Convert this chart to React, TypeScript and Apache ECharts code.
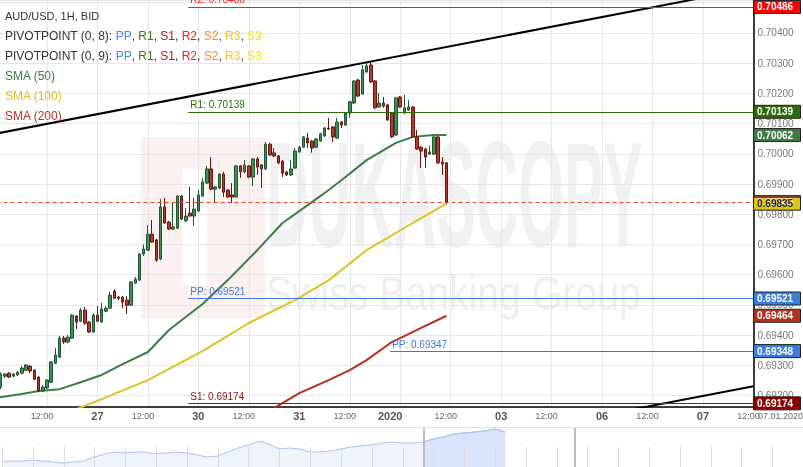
import React, { useEffect, useRef } from "react";
import * as echarts from "echarts";

// ---------- DATA ----------
const FIRST_HOUR = 1; // hour index of first candle (hours from 26 Dec 00:00, trading hours only)

const opens = [
  0.69228, 0.69264, 0.69274, 0.69264, 0.69268, 0.69274, 0.69284, 0.69297, 0.69284, 0.69261,
  0.69215, 0.69225, 0.69244, 0.69307, 0.69327, 0.6939, 0.69377, 0.6939, 0.69463, 0.69446,
  0.69483, 0.69443, 0.6941, 0.69466, 0.69443, 0.69479, 0.69489, 0.69546, 0.69526, 0.69526,
  0.69516, 0.69499, 0.69572, 0.69582, 0.69668, 0.69681, 0.69734, 0.69715, 0.69652, 0.69824,
  0.69774, 0.69751, 0.69754, 0.6986, 0.69778, 0.69804, 0.69794, 0.69811, 0.6986, 0.69903,
  0.6995, 0.69883, 0.69887, 0.69933, 0.6988, 0.69864, 0.69857, 0.6996, 0.6994, 0.6996,
  0.69923, 0.69983, 0.69963, 0.6995, 0.70032, 0.70003, 0.69993, 0.69976, 0.6994, 0.6993,
  0.69953, 0.70006, 0.70022, 0.70052, 0.70042, 0.70022, 0.70042, 0.70059, 0.70085, 0.70089,
  0.70052, 0.70105, 0.70095, 0.70135, 0.70168, 0.70244, 0.70198, 0.70271, 0.70294, 0.70241,
  0.70155, 0.70168, 0.70162, 0.70135, 0.70062, 0.70188, 0.70135, 0.70145, 0.70155, 0.70056,
  0.70022, 0.70016, 0.69999, 0.69999, 0.70056, 0.69973, 0.6997,
];
const closes = [
  0.69271, 0.69271, 0.69261, 0.69271, 0.69277, 0.69291, 0.69301, 0.69281, 0.69254, 0.69215,
  0.69228, 0.69251, 0.69311, 0.69334, 0.6939, 0.69377, 0.69393, 0.69466, 0.69443, 0.69483,
  0.6944, 0.6941, 0.69466, 0.69446, 0.69486, 0.69489, 0.69532, 0.69522, 0.69522, 0.69509,
  0.69499, 0.69576, 0.69585, 0.69668, 0.69685, 0.69734, 0.69708, 0.69648, 0.69824, 0.69771,
  0.69751, 0.69758, 0.6986, 0.69784, 0.69794, 0.69794, 0.69817, 0.69864, 0.69907, 0.6995,
  0.69883, 0.6989, 0.69933, 0.69873, 0.69857, 0.69857, 0.6996, 0.6994, 0.69963, 0.69923,
  0.69983, 0.69956, 0.6995, 0.70032, 0.69996, 0.69993, 0.6997, 0.69936, 0.6993, 0.6995,
  0.70009, 0.70022, 0.70056, 0.70036, 0.70019, 0.70049, 0.70066, 0.70085, 0.70082, 0.70056,
  0.70105, 0.70095, 0.70135, 0.70172, 0.70241, 0.70191, 0.70278, 0.70291, 0.70238, 0.70152,
  0.70168, 0.70158, 0.70112, 0.70056, 0.70185, 0.70155, 0.70152, 0.70155, 0.70056, 0.70016,
  0.70009, 0.69989, 0.70006, 0.70056, 0.6997, 0.69966, 0.6984,
];
const lows = [
  0.69221, 0.69258, 0.69258, 0.69261, 0.69264, 0.69271, 0.69281, 0.69274, 0.69251, 0.69211,
  0.69211, 0.69221, 0.69241, 0.69304, 0.69324, 0.6937, 0.69373, 0.69387, 0.6942, 0.69443,
  0.69433, 0.69407, 0.69407, 0.69443, 0.6944, 0.69476, 0.69486, 0.69519, 0.69516, 0.69489,
  0.6947, 0.69496, 0.69569, 0.69579, 0.69662, 0.69678, 0.69705, 0.69642, 0.69648, 0.69768,
  0.69748, 0.69748, 0.69751, 0.69781, 0.69774, 0.69791, 0.69761, 0.69807, 0.69857, 0.699,
  0.6988, 0.69837, 0.69883, 0.69857, 0.69854, 0.69837, 0.69854, 0.6992, 0.69936, 0.6992,
  0.69893, 0.6993, 0.69887, 0.69946, 0.69993, 0.69989, 0.69966, 0.69923, 0.69927, 0.69927,
  0.6995, 0.70003, 0.70019, 0.70019, 0.70003, 0.70019, 0.70039, 0.70056, 0.70079, 0.70039,
  0.70049, 0.70085, 0.70092, 0.70119, 0.70165, 0.70188, 0.70195, 0.70268, 0.70234, 0.70148,
  0.70152, 0.70152, 0.70109, 0.70052, 0.70059, 0.70152, 0.70132, 0.70142, 0.70052, 0.70013,
  0.69953, 0.69953, 0.69996, 0.69996, 0.69966, 0.6993, 0.69834,
];
const highs = [
  0.69277, 0.69274, 0.69277, 0.69274, 0.69281, 0.69297, 0.69304, 0.69301, 0.69287, 0.69264,
  0.69234, 0.69254, 0.69314, 0.69357, 0.69397, 0.69397, 0.694, 0.6947, 0.69466, 0.69489,
  0.69493, 0.69446, 0.69473, 0.69496, 0.69506, 0.69496, 0.69542, 0.69552, 0.69529, 0.69529,
  0.69529, 0.69579, 0.69592, 0.69672, 0.697, 0.69764, 0.69781, 0.69718, 0.6985, 0.69854,
  0.69778, 0.69837, 0.69864, 0.69864, 0.69821, 0.6989, 0.69854, 0.6988, 0.6992, 0.6996,
  0.69989, 0.69893, 0.69936, 0.6994, 0.69883, 0.69903, 0.69963, 0.69963, 0.69979, 0.69963,
  0.69986, 0.69989, 0.69966, 0.70039, 0.70036, 0.70019, 0.69996, 0.69979, 0.69943, 0.69979,
  0.70019, 0.70026, 0.70059, 0.70069, 0.70046, 0.70052, 0.70069, 0.70089, 0.70119, 0.70092,
  0.70119, 0.70109, 0.70138, 0.70175, 0.70244, 0.70248, 0.70294, 0.70304, 0.70304, 0.70244,
  0.70201, 0.70188, 0.70165, 0.70138, 0.70188, 0.70191, 0.70195, 0.70178, 0.70158, 0.70079,
  0.70026, 0.70019, 0.70026, 0.70059, 0.70059, 0.69989, 0.69973,
];

// SMA readings [hour, value]
const sma50 = [
  [0, 0.69193], [6, 0.69205], [10, 0.69215], [15, 0.69221], [20, 0.69244], [25, 0.69268],
  [30, 0.69304], [36, 0.69344], [41, 0.69417], [49, 0.69503], [55, 0.69582], [62, 0.69681],
  [68, 0.69771], [75, 0.6984], [79, 0.6988], [83, 0.69923], [88, 0.69979], [95, 0.70036],
  [99, 0.70056], [104, 0.70062], [107, 0.70062],
];
const sma100 = [
  [19, 0.69155], [25, 0.69188], [36, 0.69251], [49, 0.69347], [60, 0.6944], [71, 0.69516],
  [79, 0.69582], [88, 0.69681], [99, 0.69771], [107, 0.69835],
];
const sma200 = [
  [65, 0.6915], [72, 0.69208], [79, 0.69251], [84, 0.69284], [88, 0.69317], [94, 0.69377],
  [100, 0.69417], [107, 0.69464],
];

// Pivot points
const pivotValues = [0.70486, 0.70139, 0.69521, 0.69174, 0.69347];
const pivotLabels = ["R2: 0.70486", "R1: 0.70139", "PP: 0.69521", "S1: 0.69174", "PP: 0.69347"];
const pivotBoxLabels = ["0.70486", "0.70139", "0.69521", "0.69174", "0.69348"];
const pivotStartHours = [45.6, 45.6, 45.6, 45.6, 93.6];
const pivotColors = ["#ff1a1a", "#2b6e0a", "#3c78d8", "#8b1414", "#3c78d8"];
const pivotBoxColors = ["#ff0000", "#2b6b0c", "#3b7ddf", "#8e0000", "#3b7ddf"];

// Trend lines [hour, price]
const upperTrend = [[0, 0.70067], [180, 0.70549]];
const lowerTrend = [[130, 0.69097], [180, 0.69231]];

// Axis ticks
const tickHours = [12, 24, 36, 48, 60, 72, 84, 96, 108, 120, 132, 144, 156, 168, 180];
const tickTexts = ["12:00", "27", "12:00", "30", "12:00", "31", "12:00", "2020", "12:00", "03", "12:00", "06", "12:00", "07", "12:00"];
const cursorDate = "07.01.2020";

// Navigator history (relative level), its day ticks and selected window
const navHistory = [
  5, 6, 6, 7, 6, 5, 4, 5, 6, 10, 13, 15, 14, 15, 15, 13, 14, 15, 14, 12,
  10, 11, 15, 19, 22, 26, 23, 18, 19, 18, 15, 15, 16, 18, 20, 21, 22, 24, 25, 24,
  24, 25, 28, 30, 33, 34, 35, 36, 38, 35,
];
const navDayTicks = [0, 1, 2, 3, 4, 5, 6, 7, 8, 9, 10, 11, 12, 13, 14, 15, 16, 17, 18, 19, 20, 21, 22, 23, 24, 25, 26];
const navTickHeight = 20;
const navWindow = [13.7, 18.6];

const FONT = "Liberation Sans, Arial, sans-serif";

export default function App() {
  const ref = useRef<HTMLDivElement>(null);

  useEffect(() => {
    const el = ref.current!;
    const chart = echarts.init(el, null, { renderer: "svg" });

    const candleData = opens.map((o, i) => [FIRST_HOUR + i, o, closes[i], lows[i], highs[i]]);
    const lastPrice = closes[closes.length - 1];
    const navData = navHistory.map((v, i) => [i / 3, v]);
    const navSel = navData.filter((p) => p[0] >= navWindow[0] - 0.1);

    const pivotMarks: any[] = pivotValues.map((v, i) => [
      {
        coord: [pivotStartHours[i], v],
        lineStyle: { color: pivotColors[i], width: 1, type: "solid" },
        label: {
          show: true,
          position: "insideStartTop",
          formatter: pivotLabels[i],
          color: pivotColors[i],
          fontSize: 10,
          fontFamily: FONT,
          distance: 2,
        },
      },
      { coord: [180, v] },
    ]);
    pivotMarks.push([
      {
        coord: [0, lastPrice],
        lineStyle: { color: "#e8452e", width: 1, type: [4, 3] },
        label: { show: false },
      },
      { coord: [180, lastPrice] },
    ]);

    const navMarks: any[] = navWindow.map((w) => [
      { coord: [w, 0], lineStyle: { color: "#bdbdbd", width: 2, type: "solid" } },
      { coord: [w, 40] },
    ]);

    const xFormatter = (v: number) => {
      const i = tickHours.indexOf(Math.round(v));
      if (i < 0) return "";
      const t = tickTexts[i];
      if (t === "12:00") return `{t|${t}}`;
      if (t.length === 4) return `{y|${t}}`;
      return `{d|${t}}`;
    };

    const option: any = {
      animation: false,
      textStyle: { fontFamily: FONT },
      grid: [
        { left: -3.46, top: 0, width: 756.9, height: 407, containLabel: false, outerBoundsMode: "none" },
        { left: 2, top: 427, width: 801, height: 40, containLabel: false, outerBoundsMode: "none" },
      ],
      xAxis: [
        {
          type: "value",
          gridIndex: 0,
          min: 0,
          max: 180,
          interval: 12,
          axisLine: { show: true, onZero: false, lineStyle: { color: "#000", width: 1.5 } },
          axisTick: { show: false },
          splitLine: { show: true, lineStyle: { color: "#e6e6e6", width: 1 } },
          axisLabel: {
            margin: 3,
            formatter: xFormatter,
            showMinLabel: true,
            showMaxLabel: true,
            rich: {
              t: { fontSize: 9, color: "#666", padding: [0, 10, 0, 0], lineHeight: 12, fontFamily: FONT },
              d: { fontSize: 11, fontWeight: "bold", color: "#555", lineHeight: 12, fontFamily: FONT },
              y: { fontSize: 11, fontWeight: "bold", color: "#555", padding: [0, 20, 0, 0], lineHeight: 12, fontFamily: FONT },
            },
          },
        },
        {
          type: "value",
          gridIndex: 1,
          min: 0,
          max: 26,
          interval: 1,
          show: false,
        },
      ],
      yAxis: [
        {
          type: "value",
          gridIndex: 0,
          position: "right",
          min: 0.69162,
          max: 0.70509,
          minInterval: 0.001,
          maxInterval: 0.001,
          axisLine: { show: true, onZero: false, lineStyle: { color: "#000", width: 1.5 } },
          axisTick: { show: false },
          splitLine: { show: true, lineStyle: { color: "#e6e6e6", width: 1 } },
          axisLabel: {
            fontSize: 10,
            color: "#777",
            margin: 4,
            showMinLabel: false,
            showMaxLabel: false,
            fontFamily: FONT,
            formatter: (v: number) => v.toFixed(5),
          },
        },
        { type: "value", gridIndex: 1, min: 0, max: 40, show: false },
      ],
      series: [
        {
          type: "line",
          name: "SMA (50)",
          xAxisIndex: 0,
          yAxisIndex: 0,
          data: sma50,
          symbol: "none",
          lineStyle: { color: "#3b7d44", width: 2 },
          z: 2,
        },
        {
          type: "line",
          name: "SMA (100)",
          xAxisIndex: 0,
          yAxisIndex: 0,
          data: sma100,
          symbol: "none",
          lineStyle: { color: "#dcc423", width: 2 },
          z: 2,
        },
        {
          type: "line",
          name: "SMA (200)",
          xAxisIndex: 0,
          yAxisIndex: 0,
          data: sma200,
          symbol: "none",
          lineStyle: { color: "#b52f1f", width: 2 },
          z: 2,
        },
        {
          type: "candlestick",
          name: "AUD/USD",
          xAxisIndex: 0,
          yAxisIndex: 0,
          data: candleData,
          encode: { x: 0, y: [1, 2, 3, 4] },
          barWidth: 3,
          itemStyle: {
            color: "#3f8f5c",
            color0: "#b8382a",
            borderColor: "#1f5530",
            borderColor0: "#5e1a12",
            borderWidth: 1,
          },
          z: 3,
          markLine: {
            silent: true,
            symbol: ["none", "none"],
            animation: false,
            data: pivotMarks,
          },
        },
        {
          type: "line",
          xAxisIndex: 0,
          yAxisIndex: 0,
          data: upperTrend,
          symbol: "none",
          lineStyle: { color: "#000", width: 2 },
          z: 4,
        },
        {
          type: "line",
          xAxisIndex: 0,
          yAxisIndex: 0,
          data: lowerTrend,
          symbol: "none",
          lineStyle: { color: "#000", width: 2 },
          z: 4,
        },
        {
          type: "line",
          xAxisIndex: 1,
          yAxisIndex: 1,
          data: navData,
          symbol: "none",
          lineStyle: { color: "#a9c3ef", width: 1 },
          areaStyle: { color: "#eef3fd", opacity: 1 },
          z: 1,
        },
        {
          type: "line",
          xAxisIndex: 1,
          yAxisIndex: 1,
          data: navSel,
          symbol: "none",
          lineStyle: { color: "#a9c3ef", width: 1 },
          areaStyle: { color: "#d9e5fa", opacity: 1 },
          z: 1,
          markLine: {
            silent: true,
            symbol: ["none", "none"],
            label: { show: false },
            animation: false,
            data: navMarks,
          },
        },
      ],
    };

    chart.setOption(option);

    // value boxes on the right axis
    const boxes: { v: number; text: string; bg: string; fg: string }[] = [];
    pivotValues.forEach((v, i) => boxes.push({ v, text: pivotBoxLabels[i], bg: pivotBoxColors[i], fg: "#fff" }));
    boxes.push({ v: lastPrice, text: lastPrice.toFixed(5), bg: "#e5452c", fg: "#fff" });
    const s50 = sma50[sma50.length - 1][1];
    const s100 = sma100[sma100.length - 1][1];
    const s200 = sma200[sma200.length - 1][1];
    boxes.push({ v: s50, text: s50.toFixed(5), bg: "#3e7b45", fg: "#fff" });
    boxes.push({ v: s200, text: s200.toFixed(5), bg: "#b3321f", fg: "#fff" });
    boxes.push({ v: s100, text: s100.toFixed(5), bg: "#dcc61e", fg: "#222" });

    const boxEls: any[] = [];
    boxes.forEach((b) => {
      const py = chart.convertToPixel({ yAxisIndex: 0 }, b.v) as number;
      boxEls.push({
        type: "rect",
        shape: { x: 753.5, y: py - 6.5, width: 47, height: 13 },
        style: { fill: b.bg, stroke: "#222", lineWidth: 1 },
        z: 50,
        silent: true,
      });
      boxEls.push({
        type: "text",
        x: 757,
        y: py,
        style: { text: b.text, fill: b.fg, fontSize: 10, fontWeight: "bold", fontFamily: FONT, verticalAlign: "middle", align: "left" },
        z: 51,
        silent: true,
      });
    });

    // navigator day ticks, placed through the navigator's own scales
    const navTickEls: any[] = [];
    navDayTicks.forEach((d) => {
      const p0 = chart.convertToPixel({ xAxisIndex: 1, yAxisIndex: 1 }, [d, 0]) as number[];
      const p1 = chart.convertToPixel({ xAxisIndex: 1, yAxisIndex: 1 }, [d, navTickHeight]) as number[];
      if (!p0 || !p1) return;
      const x = Math.round(p0[0]) + 0.5;
      navTickEls.push({
        type: "line",
        shape: { x1: x, y1: p0[1], x2: x, y2: p1[1] },
        style: { stroke: "#dcdcdc", lineWidth: 1 },
        z: 4,
        silent: true,
      });
    });

    const legendNames = ["PP", "R1", "S1", "R2", "S2", "R3", "S3"];
    const legendColors = ["#4a86e8", "#38761d", "#a61c1c", "#ff1a1a", "#ff8c1a", "#f1c232", "#f5e60a"];
    const rich: any = { a: { fill: "#333", fontSize: 12, fontFamily: FONT } };
    legendNames.forEach((n, i) => (rich["c" + i] = { fill: legendColors[i], fontSize: 12, fontFamily: FONT }));
    const pivotLegend = (p: string) =>
      `{a|PIVOTPOINT (${p}): }` + legendNames.map((n, i) => `{c${i}|${n}}`).join("{a|, }");

    const legendEls: any[] = [
      { type: "text", x: 5, y: 16, style: { text: "AUD/USD, 1H, BID", fill: "#333", fontSize: 11, fontFamily: FONT, verticalAlign: "middle" } },
      { type: "text", x: 5, y: 36, style: { text: pivotLegend("0, 8"), rich, fontSize: 12, fontFamily: FONT, verticalAlign: "middle" } },
      { type: "text", x: 5, y: 55.5, style: { text: pivotLegend("0, 9"), rich, fontSize: 12, fontFamily: FONT, verticalAlign: "middle" } },
      { type: "text", x: 5, y: 76, style: { text: "SMA (50)", fill: "#3c7d3c", fontSize: 12, fontFamily: FONT, verticalAlign: "middle" } },
      { type: "text", x: 5, y: 96, style: { text: "SMA (100)", fill: "#dfc020", fontSize: 12, fontFamily: FONT, verticalAlign: "middle" } },
      { type: "text", x: 5, y: 116, style: { text: "SMA (200)", fill: "#b8332a", fontSize: 12, fontFamily: FONT, verticalAlign: "middle" } },
    ].map((e) => ({ ...e, z: 60, silent: true }));

    const watermark: any[] = [
      { type: "rect", shape: { x: 141, y: 137, width: 124, height: 181 }, style: { fill: "#fcf0f0" }, z: -1, silent: true },
      { type: "rect", shape: { x: 182, y: 169, width: 25, height: 116 }, style: { fill: "#ffffff" }, z: -1, silent: true },
      {
        type: "text",
        x: 266,
        y: 195,
        scaleX: 0.393,
        style: { text: "DUKASCOPY", fill: "#f1f1f1", fontSize: 150, fontWeight: "bold", fontFamily: FONT, verticalAlign: "middle", align: "left" },
        z: -1,
        silent: true,
      },
      {
        type: "text",
        x: 266,
        y: 293,
        scaleX: 0.817,
        style: { text: "Swiss Banking Group", fill: "#efefef", fontSize: 48, fontFamily: FONT, verticalAlign: "middle", align: "left" },
        z: -1,
        silent: true,
      },
    ];

    const misc: any[] = [
      { type: "line", shape: { x1: 0, y1: 427.5, x2: 803, y2: 427.5 }, style: { stroke: "#e2e2e2", lineWidth: 1 }, z: 5, silent: true },
      {
        type: "text",
        x: 758,
        y: 416,
        style: { text: cursorDate, fill: "#666", fontSize: 9, fontFamily: FONT, verticalAlign: "middle", align: "left" },
        z: 5,
        silent: true,
      },
    ];

    chart.setOption({ graphic: { elements: [...watermark, ...misc, ...navTickEls, ...legendEls, ...boxEls] } });

    return () => chart.dispose();
  }, []);

  return <div ref={ref} style={{ position: "fixed", left: 0, top: 0, width: 803, height: 467 }} />;
}
